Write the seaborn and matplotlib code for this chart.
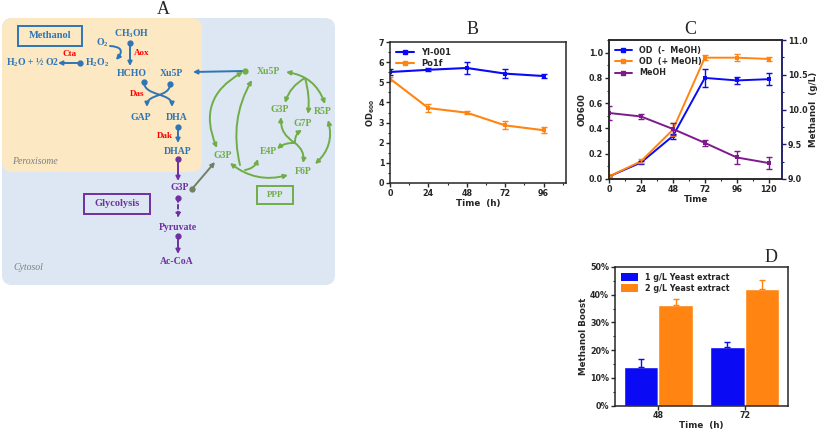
import numpy as np
import pandas as pd
import matplotlib.pyplot as plt
import seaborn as sns
from matplotlib.patches import FancyBboxPatch, Rectangle, FancyArrowPatch
from matplotlib.path import Path
from matplotlib.lines import Line2D
from matplotlib.ticker import AutoMinorLocator, PercentFormatter, MultipleLocator

# ---- data: panel B (OD600 of two strains) ----
b_time = [0, 24, 48, 72, 96]
b_yl001 = [5.51, 5.62, 5.71, 5.43, 5.31]
b_yl001_err = [0.15, 0.08, 0.30, 0.22, 0.08]
b_po1f = [5.18, 3.72, 3.49, 2.86, 2.62]
b_po1f_err = [0.10, 0.20, 0.07, 0.20, 0.14]
b_names = ["Yl-001", "Po1f"]

# ---- data: panel C (OD with/without methanol, methanol conc.) ----
c_time = [0, 24, 48, 72, 96, 120]
c_od_minus = [0.02, 0.13, 0.34, 0.80, 0.78, 0.79]
c_od_minus_err = [0.005, 0.01, 0.02, 0.07, 0.03, 0.05]
c_od_plus = [0.02, 0.14, 0.39, 0.96, 0.96, 0.95]
c_od_plus_err = [0.005, 0.015, 0.05, 0.02, 0.03, 0.015]
c_meoh = [9.95, 9.90, 9.72, 9.52, 9.31, 9.23]
c_meoh_err = [0.10, 0.03, 0.08, 0.04, 0.10, 0.08]
c_names = ["OD  (-  MeOH)", "OD  (+ MeOH)", "MeOH"]

# ---- data: panel D (methanol boost) ----
d_time = ["48", "72"]
d_groups = ["1 g/L Yeast extract", "2 g/L Yeast extract"]
d_boost_1g = [0.138, 0.21]
d_boost_1g_err = [0.03, 0.02]
d_boost_2g = [0.362, 0.42]
d_boost_2g_err = [0.021, 0.032]

BLUE = "#0A0AF5"
ORANGE = "#FF8412"
PURPLE = "#7D1A8C"

sns.set_style("ticks")
plt.rcParams["font.family"] = ["DejaVu Sans"]
plt.rcParams["mathtext.default"] = "regular"
plt.rcParams["axes.linewidth"] = 1.1

fig = plt.figure(figsize=(8.17, 4.30), dpi=100)

# =================== panel A : pathway schematic ===================
dax = fig.add_axes([0, 0, 1, 1])
dax.set_xlim(0, 817)
dax.set_ylim(430, 0)
dax.axis("off")

pblue = "#2E75B6"
pred = "#FF0000"
pgreen = "#70AD47"
ppurple = "#7030A0"
serif = ["Liberation Serif", "DejaVu Serif"]

dax.add_patch(FancyBboxPatch((2, 18), 333, 267, boxstyle="round,pad=0,rounding_size=10",
                             fc="#DCE7F3", ec="none", zorder=0))
dax.add_patch(FancyBboxPatch((2, 18), 200, 154, boxstyle="round,pad=0,rounding_size=11",
                             fc="#FCE8C3", ec="none", zorder=1))

nodes = [
    ("CH$_3$OH", 132, 34, pblue), ("O$_2$", 102, 43, pblue), ("H$_2$O$_2$", 97, 63, pblue),
    ("HCHO", 132, 73, pblue), ("Xu5P", 171, 73, pblue), ("H$_2$O + ½ O2", 33, 63, pblue),
    ("GAP", 141, 118, pblue), ("DHA", 177, 118, pblue), ("DHAP", 178, 151, pblue),
    ("G3P", 180, 187, ppurple), ("Pyruvate", 178, 227, ppurple), ("Ac-CoA", 177, 262, ppurple),
    ("Xu5P", 268, 71, pgreen), ("G3P", 280, 110, pgreen), ("R5P", 323, 112, pgreen),
    ("G7P", 303, 123, pgreen), ("E4P", 268, 151, pgreen), ("G3P", 223, 156, pgreen),
    ("F6P", 303, 172, pgreen),
]
for label, x, y, col in nodes:
    dax.text(x, y, label, color=col, fontsize=7, fontweight="bold", family=serif,
             ha="center", va="center", zorder=5)

enzymes = [("Aox", 142, 53), ("Cta", 70, 54), ("Das", 137, 94), ("Dak", 165, 136)]
for label, x, y in enzymes:
    dax.text(x, y, label, color=pred, fontsize=6.5, fontweight="bold", family=serif,
             ha="center", va="center", zorder=5)

dax.text(35, 161, "Peroxisome", color="#7F7F7F", fontsize=7, style="italic", family=serif,
         ha="center", va="center", zorder=5)
dax.text(28, 267, "Cytosol", color="#7F7F7F", fontsize=7, style="italic", family=serif,
         ha="center", va="center", zorder=5)

boxes = [("Methanol", 18, 26, 64, 20, pblue, 7.5), ("Glycolysis", 84, 194, 66, 20, ppurple, 7.5),
         ("PPP", 257, 186, 36, 18, pgreen, 6.5)]
for label, x, y, w, h, col, fs in boxes:
    dax.add_patch(Rectangle((x, y), w, h, fill=False, ec=col, lw=1.4, zorder=4))
    dax.text(x + w / 2, y + h / 2, label, color=col, fontsize=fs, fontweight="bold",
             family=serif, ha="center", va="center", zorder=5)


def arrow(p0, p1, col, rad=0.0, style="-|>", dot=True, ls="-"):
    a = FancyArrowPatch(p0, p1, arrowstyle=style, mutation_scale=6, color=col, lw=1.4,
                        connectionstyle=f"arc3,rad={rad}", linestyle=ls, zorder=3,
                        shrinkA=0, shrinkB=0)
    dax.add_patch(a)
    if dot:
        dax.plot(*p0, "o", color=col, ms=3.5, zorder=4)


def s_arrow(p0, p1, col):
    # S-shaped crossing branch (Das reaction)
    mid = (p0[1] + p1[1]) / 2
    verts = [p0, (p0[0], mid + 2), (p1[0], mid - 2), p1]
    path = Path(verts, [Path.MOVETO, Path.CURVE4, Path.CURVE4, Path.CURVE4])
    dax.add_patch(FancyArrowPatch(path=path, arrowstyle="-|>", mutation_scale=6, color=col,
                                  lw=1.4, zorder=3))
    dax.plot(*p0, "o", color=col, ms=3.5, zorder=4)


arrow((130, 43), (130, 66), pblue)
arrow((110, 46), (116, 60), pblue, rad=-1.0, dot=False)
arrow((80, 63), (58, 63), pblue)
s_arrow((144, 82), (172, 107), pblue)
s_arrow((170, 84), (147, 107), pblue)
arrow((178, 127), (178, 143), pblue)
arrow((178, 159), (178, 181), ppurple)
arrow((192, 189), (215, 162), "#708060")
arrow((178, 198), (178, 218), ppurple, ls=(0, (2, 1.5)))
arrow((178, 236), (178, 254), ppurple)
arrow((245, 71), (193, 72), pblue, dot=False)
dax.plot(245, 71, "o", color=pgreen, ms=3.5, zorder=4)
# pentose phosphate pathway curves
arrow((243, 72), (217, 148), pgreen, rad=0.45, style="<|-|>", dot=False)
arrow((240, 165), (252, 80), pgreen, rad=-0.2, dot=False)
arrow((230, 163), (288, 175), pgreen, rad=0.25, style="<|-|>", dot=False)
arrow((245, 170), (258, 159), pgreen, rad=0.3, dot=False)
arrow((286, 72), (325, 104), pgreen, rad=-0.3, style="<|-|>", dot=False)
arrow((305, 78), (285, 103), pgreen, rad=0.2, dot=False)
arrow((305, 78), (308, 114), pgreen, rad=-0.1, dot=False)
arrow((328, 120), (315, 164), pgreen, rad=-0.3, style="<|-|>", dot=False)
arrow((295, 143), (281, 117), pgreen, rad=-0.3, dot=False)
arrow((295, 143), (277, 149), pgreen, rad=0.2, dot=False)
arrow((295, 143), (302, 130), pgreen, rad=-0.3, dot=False)
arrow((295, 143), (303, 163), pgreen, rad=-0.3, dot=False)

title_kw = dict(fontsize=13, family=serif, ha="center", va="center")
dax.text(163, 9, "A", **title_kw)
dax.text(473, 29, "B", **title_kw)
dax.text(690, 30, "C", **title_kw)
dax.text(771, 257, "D", **title_kw)
dax.text(698, 174, "(", fontsize=6, ha="center", va="center")


def style_axes(ax):
    ax.tick_params(axis="both", which="major", direction="out", length=3, width=1,
                   labelsize=5.8, pad=1.2)
    ax.tick_params(axis="both", which="minor", direction="out", length=1.6, width=0.8)
    for lab in ax.get_xticklabels() + ax.get_yticklabels():
        lab.set_fontweight("bold")


lbl_kw = dict(fontsize=6.3, fontweight="bold")

# =================== panel B ===================
axB = fig.add_axes([390 / 817, (430 - 183) / 430, 176 / 817, 141 / 430])
dfB = pd.DataFrame({
    "time": b_time * 2,
    "od": b_yl001 + b_po1f,
    "strain": [b_names[0]] * len(b_time) + [b_names[1]] * len(b_time),
})
sns.lineplot(data=dfB, x="time", y="od", hue="strain", palette=[BLUE, ORANGE],
             marker="s", markersize=3, markeredgewidth=0, linewidth=1.5, legend=False, ax=axB)
axB.errorbar(b_time, b_yl001, yerr=b_yl001_err, fmt="none", ecolor=BLUE, capsize=2, elinewidth=1)
axB.errorbar(b_time, b_po1f, yerr=b_po1f_err, fmt="none", ecolor=ORANGE, capsize=2, elinewidth=1)
axB.set_xlim(0, 110)
axB.set_ylim(0, 7)
axB.set_xticks(b_time)
axB.yaxis.set_major_locator(MultipleLocator(1))
axB.yaxis.set_minor_locator(AutoMinorLocator(2))
axB.xaxis.set_minor_locator(AutoMinorLocator(2))
axB.set_xlabel("Time  (h)", labelpad=1, **lbl_kw)
axB.set_ylabel("OD$_{600}$", labelpad=1, fontsize=6, fontweight="bold")
style_axes(axB)
hB = [Line2D([], [], color=c, marker="s", ms=3, lw=1.5) for c in (BLUE, ORANGE)]
axB.legend(hB, b_names, loc="upper left", frameon=False, handlelength=2.2,
           prop={"size": 6, "weight": "bold"}, borderaxespad=0.3, labelspacing=0.3)

# =================== panel C ===================
axC = fig.add_axes([609 / 817, (430 - 179) / 430, 173 / 817, 139 / 430])
dfC = pd.DataFrame({
    "time": c_time * 2,
    "od": c_od_minus + c_od_plus,
    "cond": [c_names[0]] * len(c_time) + [c_names[1]] * len(c_time),
})
sns.lineplot(data=dfC, x="time", y="od", hue="cond", palette=[BLUE, ORANGE],
             marker="s", markersize=2.5, markeredgewidth=0, linewidth=1.4, legend=False, ax=axC)
axC.errorbar(c_time, c_od_minus, yerr=c_od_minus_err, fmt="none", ecolor=BLUE, capsize=2, elinewidth=1)
axC.errorbar(c_time, c_od_plus, yerr=c_od_plus_err, fmt="none", ecolor=ORANGE, capsize=2, elinewidth=1)
axC.set_xlim(0, 130)
axC.set_ylim(0, 1.1)
axC.set_xticks(c_time)
axC.yaxis.set_major_locator(MultipleLocator(0.2))
axC.yaxis.set_minor_locator(AutoMinorLocator(2))
axC.xaxis.set_minor_locator(AutoMinorLocator(2))
axC.set_xlabel("Time", labelpad=1, **lbl_kw)
axC.set_ylabel("OD600", labelpad=1.5, **lbl_kw)
style_axes(axC)

axC2 = axC.twinx()
dfM = pd.DataFrame({"time": c_time, "meoh": c_meoh})
sns.lineplot(data=dfM, x="time", y="meoh", color=PURPLE, marker="s", markersize=2.5,
             markeredgewidth=0, linewidth=1.4, ax=axC2)
axC2.errorbar(c_time, c_meoh, yerr=c_meoh_err, fmt="none", ecolor=PURPLE, capsize=2, elinewidth=1)
axC2.set_ylim(9.0, 11.0)
axC2.yaxis.set_major_locator(MultipleLocator(0.5))
axC2.yaxis.set_minor_locator(AutoMinorLocator(2))
axC2.set_ylabel("Methanol  (g/L)", labelpad=1, **lbl_kw)
axC2.spines["right"].set_color("#1C1C78")
axC2.tick_params(axis="y", which="both", color="#1C1C78")
style_axes(axC2)
hC = [Line2D([], [], color=c, marker="s", ms=2.5, lw=1.4) for c in (BLUE, ORANGE, PURPLE)]
axC.legend(hC, c_names, loc="upper left", frameon=False, handlelength=2.2,
           prop={"size": 5.8, "weight": "bold"}, borderaxespad=0.3, labelspacing=0.3)

# =================== panel D ===================
axD = fig.add_axes([615 / 817, (430 - 405.5) / 430, 173 / 817, 138.5 / 430])
dfD = pd.DataFrame({
    "time": d_time * 2,
    "boost": d_boost_1g + d_boost_2g,
    "group": [d_groups[0]] * len(d_time) + [d_groups[1]] * len(d_time),
})
sns.barplot(data=dfD, x="time", y="boost", hue="group", palette=[BLUE, ORANGE],
            width=0.8, errorbar=None, saturation=1, ax=axD)
for cont, errs, col in zip(axD.containers, [d_boost_1g_err, d_boost_2g_err], [BLUE, ORANGE]):
    for bar, e in zip(cont, errs):
        xc = bar.get_x() + bar.get_width() / 2
        axD.errorbar(xc, bar.get_height(), yerr=[[0], [e]], fmt="none", ecolor=col,
                     capsize=2.5, elinewidth=1)
axD.set_xlim(-0.5, 1.5)
axD.set_ylim(0, 0.5)
axD.yaxis.set_major_locator(MultipleLocator(0.1))
axD.yaxis.set_minor_locator(AutoMinorLocator(2))
axD.yaxis.set_major_formatter(PercentFormatter(1.0, decimals=0))
axD.set_xlabel("Time  (h)", labelpad=0.5, **lbl_kw)
axD.set_ylabel("Methanol Boost", labelpad=1.5, **lbl_kw)
style_axes(axD)
hD = [Rectangle((0, 0), 1, 1, fc=c, ec="none") for c in (BLUE, ORANGE)]
axD.legend(hD, d_groups, loc="upper left", frameon=False, handlelength=2.2, handleheight=1.1,
           prop={"size": 5.8, "weight": "bold"}, borderaxespad=0.3, labelspacing=0.3)

fig.savefig("out.png", dpi=100)
plt.close(fig)
